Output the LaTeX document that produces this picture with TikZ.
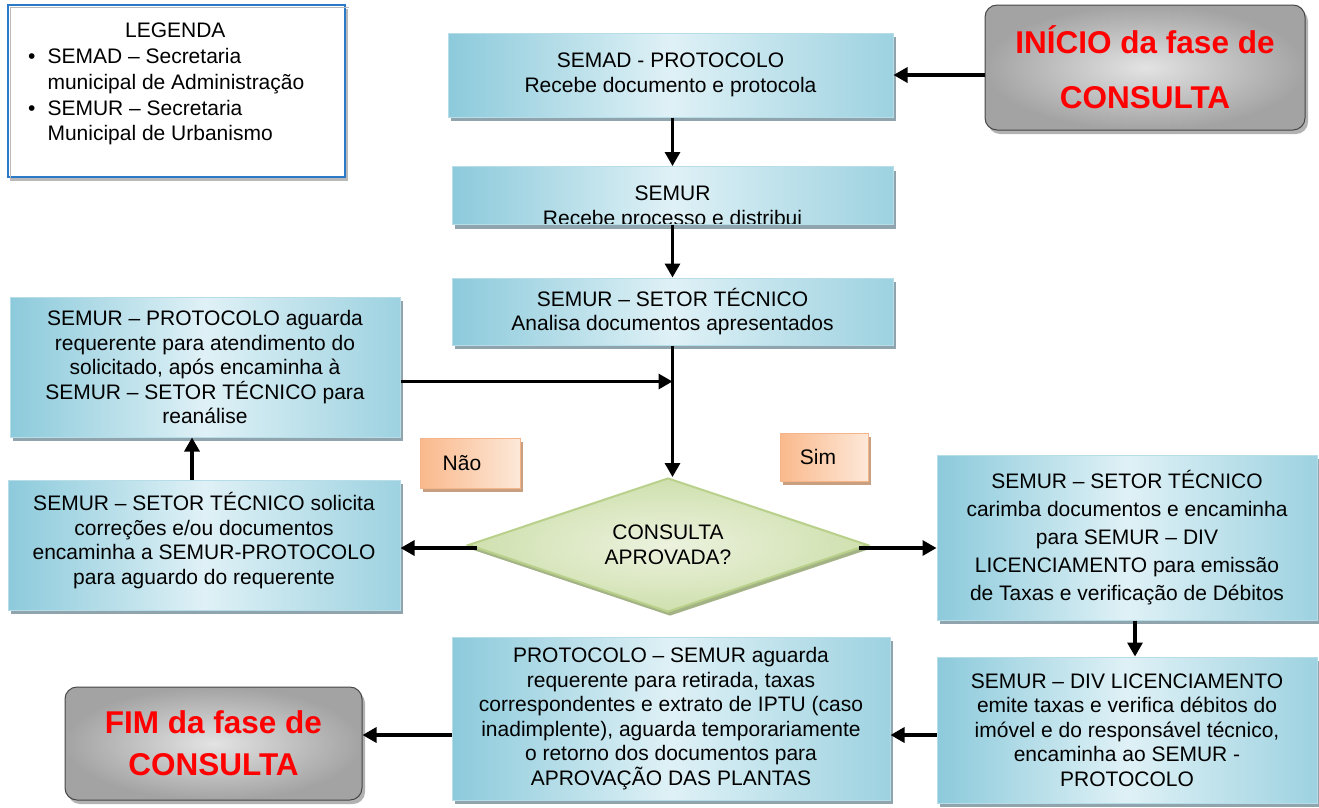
\documentclass[tikz,border=0pt]{standalone}
\usepackage{fontspec}
\setmainfont{Liberation Sans}
\usetikzlibrary{arrows.meta,shapes.geometric,shadows,calc}
\definecolor{bdark}{HTML}{8CCADB}
\definecolor{blight}{HTML}{DFF1F6}
\definecolor{bborder}{HTML}{B7DEE8}
\definecolor{bshadow}{HTML}{8FA4AD}
\definecolor{oDark}{HTML}{FAB98C}
\definecolor{oLight}{HTML}{FDE8D8}
\definecolor{oBorder}{HTML}{F6B48A}
\definecolor{oShadow}{HTML}{C9A07F}
\definecolor{gDark}{HTML}{CFE0AE}
\definecolor{gLight}{HTML}{ECF2DE}
\definecolor{gBorder}{HTML}{B9D08B}
\definecolor{gShadow}{HTML}{A3B386}
\definecolor{legblue}{HTML}{2A7AC9}
\newcommand{\bodyfont}{\fontsize{21pt}{24.5pt}\selectfont}
\begin{document}
\begin{tikzpicture}[x=1pt,y=-1pt,
  proc/.style={rectangle, draw=bborder, line width=1pt,
    left color=bdark, right color=bdark!85!white, middle color=blight,
    drop shadow={shadow xshift=3pt,shadow yshift=-4pt,fill=bshadow,opacity=1},
    align=center, font=\bodyfont, inner sep=0pt},
  term/.style={rectangle, rounded corners=12pt, draw=gray!55!black, line width=1pt,
    inner color=gray!22, outer color=gray!72,
    drop shadow={shadow xshift=3pt,shadow yshift=-4pt,fill=gray!60,opacity=1},
    align=center, text=red, font=\fontsize{31.5pt}{42pt}\selectfont\bfseries, inner sep=0pt},
  lab/.style={rectangle, draw=oBorder, line width=1pt,
    left color=oDark, right color=oLight,
    drop shadow={shadow xshift=3pt,shadow yshift=-4pt,fill=oShadow,opacity=1},
    font=\bodyfont, inner sep=0pt},
  dec/.style={diamond, aspect=3, draw=gBorder, line width=2pt, inner color=gLight, outer color=gDark,
    drop shadow={shadow xshift=2pt,shadow yshift=-4pt,fill=gShadow,opacity=1},
    align=center, font=\bodyfont, inner sep=0pt},
  arr/.style={line width=3.2pt, -{Triangle[length=14pt,width=15pt]}},
  legendbox/.style={rectangle, draw=legblue, line width=2pt, fill=white,
    drop shadow={shadow xshift=3pt,shadow yshift=-4pt,fill=gray!55,opacity=1}}
  ]
\useasboundingbox (0,0) rectangle (1319,807);

% legend
\node[legendbox, minimum width=337, minimum height=172] (leg) at (176.5,91) {};
\draw[gray!55, line width=1pt] ([xshift=3pt,yshift=-3pt]leg.south west) |- ([xshift=3pt,yshift=-3pt]leg.north east);
\node[anchor=north west, inner sep=0pt, font=\bodyfont] (legtext) at (28,19)
 {\renewcommand\arraystretch{1.04}\begin{tabular}{@{}l@{\hspace{12pt}}l@{}}
  \multicolumn{2}{c}{\hspace{18pt}LEGENDA}\\[1pt]
  • & SEMAD – Secretaria\\
    & municipal de Administração\\[1pt]
  • & SEMUR – Secretaria\\
    & Municipal de Urbanismo
  \end{tabular}};

% terminals
\node[term, minimum width=320, minimum height=125, font=\fontsize{31.5pt}{55pt}\selectfont\bfseries] (ini) at (1145,67.5) {INÍCIO da fase de\\CONSULTA};
\node[term, minimum width=297, minimum height=113] (fim) at (213.5,743.5) {FIM da fase de\\CONSULTA};

% process boxes
\node[proc, minimum width=445, minimum height=84] (b1) at (670.5,75) {SEMAD - PROTOCOLO\\Recebe documento e protocola};
\node[proc, minimum width=441, minimum height=58,
  path picture={\node[align=center,font=\bodyfont,inner sep=0pt] at ([yshift=-12.5pt]path picture bounding box.center) {SEMUR\\Recebe processo e distribui};}] (b2) at (672.5,195.5) {};
\node[proc, minimum width=441, minimum height=67] (b3) at (672.5,311.5) {SEMUR – SETOR TÉCNICO\\Analisa documentos apresentados};
\node[proc, minimum width=390, minimum height=140] (ptop) at (205,367) {SEMUR – PROTOCOLO aguarda\\requerente para atendimento do\\solicitado, após encaminha à\\SEMUR – SETOR TÉCNICO para\\reanálise};
\node[proc, minimum width=392, minimum height=130] (psol) at (204,545) {SEMUR – SETOR TÉCNICO solicita\\correções e/ou documentos\\encaminha a SEMUR-PROTOCOLO\\para aguardo do requerente\\[-11.5pt]};
\node[proc, minimum width=380, minimum height=165, font=\fontsize{21pt}{28pt}\selectfont] (car) at (1127,537.5) {SEMUR – SETOR TÉCNICO\\carimba documentos e encaminha\\para SEMUR – DIV\\LICENCIAMENTO para emissão\\de Taxas e verificação de Débitos};
\node[proc, minimum width=380, minimum height=146] (div) at (1127,730) {SEMUR – DIV LICENCIAMENTO\\emite taxas e verifica débitos do\\imóvel e do responsável técnico,\\encaminha ao SEMUR -\\PROTOCOLO};
\node[proc, minimum width=438, minimum height=163] (bm) at (671,718.5) {PROTOCOLO – SEMUR aguarda\\requerente para retirada, taxas\\correspondentes e extrato de IPTU (caso\\inadimplente), aguarda temporariamente\\o retorno dos documentos para\\APROVAÇÃO DAS PLANTAS};

% decision
\node[dec, minimum width=400, minimum height=134] (dia) at (668,545) {CONSULTA\\APROVADA?};

% labels
\node[lab, minimum width=100, minimum height=50] (nao) at (470,463) {\hspace{-16pt}Não};
\node[lab, minimum width=88, minimum height=48] (sim) at (824,457) {\hspace{-12pt}Sim};

% connectors
\draw[arr] (ini.west|-b1.east) -- (b1.east);
\draw[arr] (b2.north|-b1.south) -- (b2.north);
\draw[arr] (b2.south) -- (b3.north);
\draw[arr] (b3.south) -- (b3.south|-dia.north);
\coordinate (j) at ($(b3.south)+(0,36)$);
\draw[arr] (ptop.east|-j) -- (j);
\draw[arr] ([xshift=-12pt]psol.north) -- ([xshift=-12pt]psol.north|-ptop.south);
\draw[arr] ([xshift=10pt,yshift=-3pt]dia.west) -- ([yshift=-3pt]psol.east);
\draw[arr] ([xshift=-10pt,yshift=-3pt]dia.east) -- ([yshift=-3pt]dia.east-|car.west);
\draw[arr] ([xshift=8pt]car.south) -- ([xshift=8pt]car.south|-div.north);
\draw[arr] ([yshift=-5pt]div.west) -- ([yshift=-5pt]div.west-|bm.east);
\draw[arr] ([yshift=-16.5pt]bm.west) -- ([yshift=-16.5pt]bm.west-|fim.east);
\end{tikzpicture}
\end{document}
